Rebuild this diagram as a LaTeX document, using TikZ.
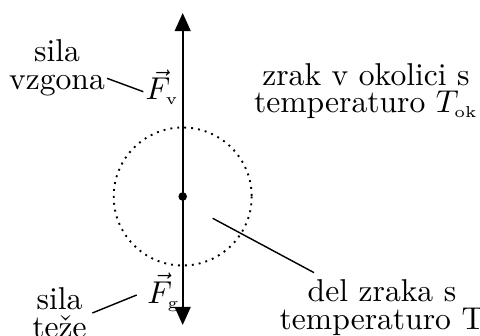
\documentclass[tikz,border=0pt]{standalone}
\usetikzlibrary{arrows.meta,calc}
\begin{document}
\begin{tikzpicture}[x=0.3165pt,y=-0.3165pt,
  lbl/.style={inner sep=0pt,align=center,font=\fontsize{10}{8.86}\selectfont},
  vec/.style={inner sep=0pt,anchor=base west,font=\fontsize{10}{12}\selectfont},
  force/.style={line width=0.55pt,-{Triangle[length=5.7pt,width=5pt]}},
  conn/.style={line width=0.45pt},
  region/.style={line width=0.6pt,dash pattern=on 0.6pt off 1.6pt}]
\useasboundingbox (0,0) rectangle (480,335);
\coordinate (c) at (182.7,196.5);
\coordinate (top) at (182.7,13);
\coordinate (bot) at (182.7,325);
\draw[region] (c) circle[radius=69];
\draw[force] (c) -- (top);
\draw[force] (c) -- (bot);
\fill (c) circle[radius=4.3];
\node[lbl] (vzg) at (57,67.6) {sila\\vzgona};
\node[lbl] (teze) at (59.5,313) {sila\\te\v{z}e};
\node[lbl] (okol) at (366,91.1) {zrak v okolici s\\temperaturo $T_{\scriptscriptstyle\mathrm{ok}}$};
\node[lbl] (del) at (382,307.8) {del zraka s\\temperaturo T};
\node[vec] (Fv) at (145,100) {$\vec{F}_{\scriptscriptstyle\mathrm{v}}$};
\node[vec] (Fg) at (146.7,303.3) {$\vec{F}_{\scriptscriptstyle\mathrm{g}}$};
\coordinate (inner) at ($(c)+(30,21.8)$);
\draw[conn] ($(vzg.south east)+(1.6,-18.1)$) -- ($(Fv.base west)+(-1.7,-8.3)$);
\draw[conn] ($(teze.east)+(5,0)$) -- ($(Fg.base west)+(-10,-8.3)$);
\draw[conn] (inner) -- ($(del.north west)+(35,-6.5)$);
\end{tikzpicture}
\end{document}
